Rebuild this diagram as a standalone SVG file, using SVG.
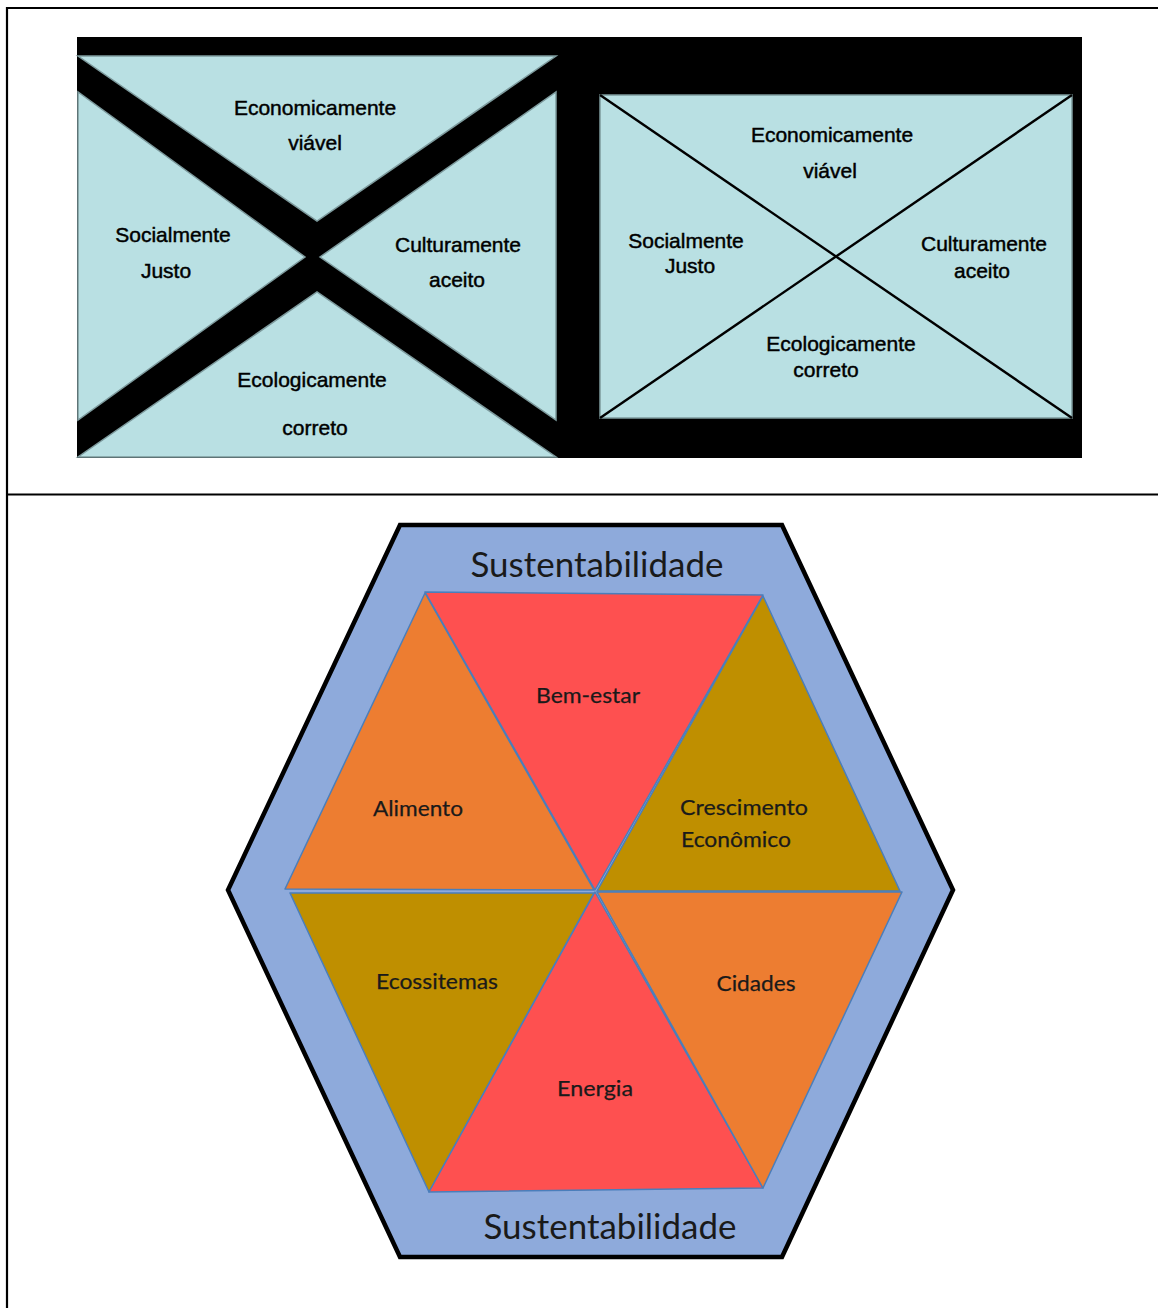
<svg xmlns="http://www.w3.org/2000/svg" width="1158" height="1308" viewBox="0 0 1158 1308">
<style>
.tri{fill:#b9e0e3;stroke:#7d9a9d;stroke-width:1.5}
.lbl{font-family:"Liberation Sans",Arial,sans-serif;font-size:21px;fill:#000;stroke:#000;stroke-width:0.45;text-anchor:middle}
.hx{font-family:Lato,"Open Sans",sans-serif;fill:#1a1a1a}
.sm{font-size:22px;stroke:#1a1a1a;stroke-width:0.25}
.big{font-size:35px}
.seg{stroke:#4a7ebb;stroke-width:1.5;stroke-linejoin:round}
.red{fill:#fe5050}
.org{fill:#ed7d31}
.gld{fill:#bf8f00}
</style>
<rect width="1158" height="1308" fill="#fff"/>
<g id="frame" stroke="#000" stroke-width="2.2" fill="none">
<line x1="6" y1="8" x2="1158" y2="8"/>
<line x1="7" y1="7" x2="7" y2="1308"/>
<line x1="6" y1="494.5" x2="1158" y2="494.5"/>
</g>
<rect id="black-bg" x="77" y="37" width="1005" height="421" fill="#000"/>
<g id="panel-left">
<polygon class="tri" points="78,56 556,56 317,221"/>
<polygon class="tri" points="78,92 78,420 305,257"/>
<polygon class="tri" points="556,92 556,420 320,257"/>
<polygon class="tri" points="78,457 556,457 317,292"/>
<text class="lbl" x="315" y="115">Economicamente</text>
<text class="lbl" x="315" y="150">viável</text>
<text class="lbl" x="173" y="242">Socialmente</text>
<text class="lbl" x="166" y="278">Justo</text>
<text class="lbl" x="458" y="252">Culturamente</text>
<text class="lbl" x="457" y="287">aceito</text>
<text class="lbl" x="312" y="387">Ecologicamente</text>
<text class="lbl" x="315" y="435">correto</text>
</g>
<g id="panel-right">
<rect class="tri" x="600" y="95" width="472" height="323"/>
<g stroke="#000" stroke-width="2.4">
<line x1="600" y1="95" x2="1072" y2="418"/>
<line x1="1072" y1="95" x2="600" y2="418"/>
</g>
<text class="lbl" x="832" y="142">Economicamente</text>
<text class="lbl" x="830" y="178">viável</text>
<text class="lbl" x="686" y="248">Socialmente</text>
<text class="lbl" x="690" y="273">Justo</text>
<text class="lbl" x="984" y="251">Culturamente</text>
<text class="lbl" x="982" y="278">aceito</text>
<text class="lbl" x="841" y="351">Ecologicamente</text>
<text class="lbl" x="826" y="377">correto</text>
</g>
<g id="hexagon">
<polygon points="400,525 782,525 953,890 782,1257 400,1257 228,890" fill="#8eaadb" stroke="#000" stroke-width="4.5" stroke-linejoin="miter"/>
<text class="hx big" x="597" y="577" text-anchor="middle" textLength="253" lengthAdjust="spacingAndGlyphs">Sustentabilidade</text>
<text class="hx big" x="610" y="1239" text-anchor="middle" textLength="253" lengthAdjust="spacingAndGlyphs">Sustentabilidade</text>
</g>
<g id="segments">
<g id="alimento"><polygon class="seg org" points="425,593 285,889 594,890"/>
<text class="hx sm" x="418" y="816" text-anchor="middle" textLength="90" lengthAdjust="spacingAndGlyphs">Alimento</text></g>
<g id="bem-estar"><polygon class="seg red" points="425,592 763,595 595,890"/>
<text class="hx sm" x="588" y="703" text-anchor="middle" textLength="104" lengthAdjust="spacingAndGlyphs">Bem-estar</text></g>
<g id="crescimento"><polygon class="seg gld" points="763,596 597,891 900,891"/>
<text class="hx sm" x="680" y="815" textLength="128" lengthAdjust="spacingAndGlyphs">Crescimento</text>
<text class="hx sm" x="681" y="847" textLength="110" lengthAdjust="spacingAndGlyphs">Econômico</text></g>
<g id="ecossitemas"><polygon class="seg gld" points="290,893 594,893 429,1192"/>
<text class="hx sm" x="437" y="989" text-anchor="middle" textLength="122" lengthAdjust="spacingAndGlyphs">Ecossitemas</text></g>
<g id="energia"><polygon class="seg red" points="595,892 429,1192 763,1188"/>
<text class="hx sm" x="595" y="1096" text-anchor="middle" textLength="76" lengthAdjust="spacingAndGlyphs">Energia</text></g>
<g id="cidades"><polygon class="seg org" points="597,892 902,892 763,1188"/>
<text class="hx sm" x="756" y="991" text-anchor="middle" textLength="79" lengthAdjust="spacingAndGlyphs">Cidades</text></g>
</g>
</svg>
